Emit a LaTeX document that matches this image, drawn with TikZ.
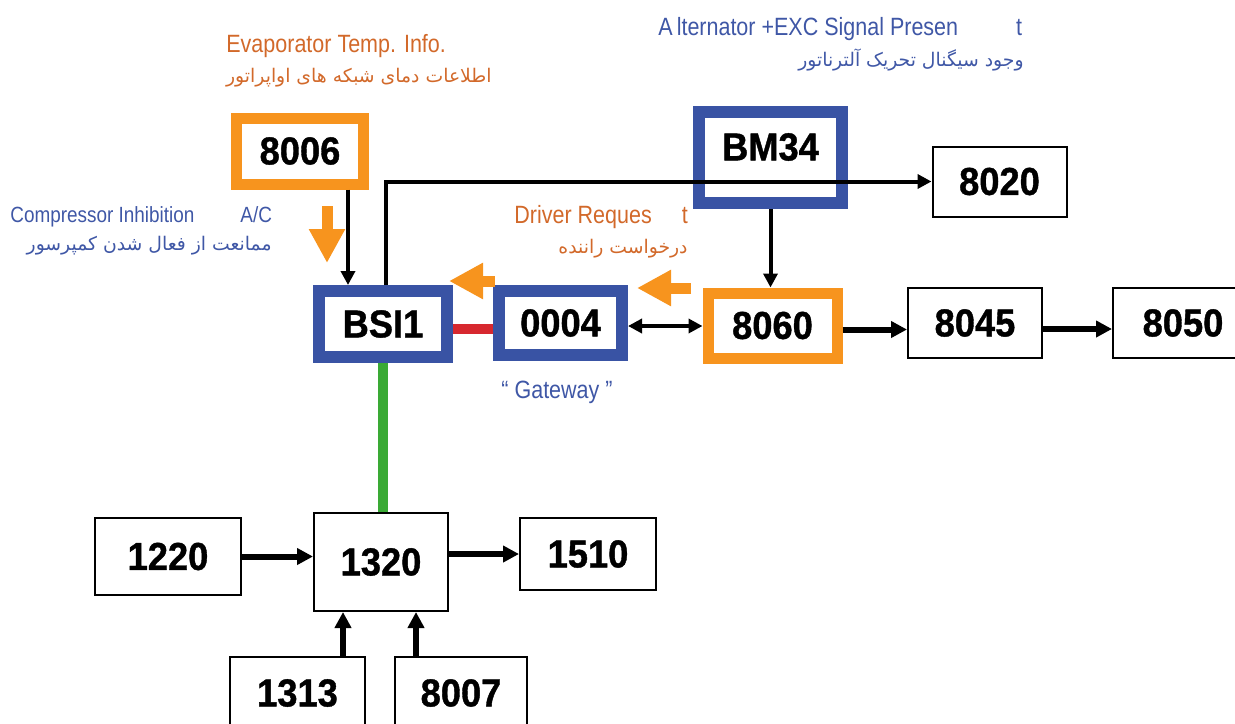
\documentclass[tikz,border=0pt]{standalone}
\usepackage{fontspec}
\setmainfont{Liberation Sans}
\newfontfamily\numfont[FakeStretch=0.93,FakeBold=1]{Liberation Sans}
\newfontfamily\lblfont[FakeStretch=0.86]{Liberation Sans}
\newfontfamily\fafont[Script=Arabic]{DejaVu Sans}
\TeXXeTstate=1
\usetikzlibrary{positioning, arrows.meta, calc}

\definecolor{frameblue}{HTML}{3953A4}
\definecolor{frameorange}{HTML}{F7941E}
\definecolor{textorange}{HTML}{D2692A}
\definecolor{textblue}{HTML}{3F57A6}
\definecolor{linkred}{HTML}{D7282F}
\definecolor{linkgreen}{HTML}{3AAA35}

\begin{document}
\begin{tikzpicture}[
    x=0.5pt, y=-0.5pt,
    box/.style={rectangle, draw, line width=1pt, inner sep=0pt, font=\numfont\bfseries\fontsize{19.5}{20}\selectfont},
    blueframe/.style={box, draw=frameblue, line width=6pt},
    orangeframe/.style={box, draw=frameorange, line width=5.5pt},
    arrow/.style={-{Triangle[length=7pt,width=7pt]}, line width=2pt},
    fatarrow/.style={-{Triangle[length=8pt,width=8pt]}, line width=3pt},
    hint/.style={-{Triangle[length=17pt,width=17pt]}, line width=5.5pt, frameorange},
    entext/.style={font=\lblfont\fontsize{12.5}{14}\selectfont, inner sep=0pt},
    fatext/.style={font=\fafont\fontsize{9.4}{11}\selectfont, inner sep=0pt},
]
\useasboundingbox (0,0) rectangle (1235,723);
\clip (0,0) rectangle (1235,723);

% ECU boxes
\node[orangeframe, minimum width=63.5pt, minimum height=33pt] (ecu8006) at (300,151) {8006};
\node[blueframe, minimum width=64pt, minimum height=33pt] (bsi) at (383,324) {BSI1};
\node[blueframe, minimum width=61.5pt, minimum height=32pt] (gw) at (560.5,323) {0004};
\node[blueframe, minimum width=71.5pt, minimum height=45.5pt] (bm34) at (770.5,157.5) {};
\node[box, draw=none] (bm34txt) at (770.5,147) {BM34};
\node[orangeframe, minimum width=64.5pt, minimum height=32.5pt] (ecu8060) at (772.5,325.5) {8060};
\node[box, minimum width=67pt, minimum height=35pt] (ecu8020) at (999.5,181.5) {8020};
\node[box, minimum width=67pt, minimum height=35pt] (ecu8045) at (975,323) {8045};
\node[box, minimum width=70pt, minimum height=35pt] (ecu8050) at (1183,323) {8050};
\node[box, minimum width=73pt, minimum height=38.5pt] (ecu1220) at (168,556.5) {1220};
\node[box, minimum width=67pt, minimum height=49pt] (ecu1320) at (381,562) {1320};
\node[box, minimum width=68pt, minimum height=36pt] (ecu1510) at (588,554) {1510};
\node[box, minimum width=67.5pt, minimum height=36pt] (ecu1313) at (297.5,693) {1313};
\node[box, minimum width=66pt, minimum height=36pt] (ecu8007) at (461,693) {8007};

% network links
\draw[line width=5pt, linkred] ([yshift=-2.5pt]bsi.east) -- ([yshift=-2.5pt]bsi.east -| gw.west);
\draw[line width=5pt, linkgreen] (bsi.south) -- (bsi.south |- ecu1320.north);

% signal arrows
\draw[arrow] ([xshift=24pt]ecu8006.south) -- ([xshift=24pt]ecu8006.south |- bsi.north);
\draw[arrow] ([xshift=1.5pt]bsi.north) |- (ecu8020.west);
\draw[arrow] (bm34.south) -- (bm34.south |- ecu8060.north);
\draw[arrow, {Triangle[length=7pt,width=7pt]}-{Triangle[length=7pt,width=7pt]}] ([yshift=-1.5pt]gw.east) -- ([yshift=-1.5pt]gw.east -| ecu8060.west);
\draw[fatarrow] ([yshift=-2pt]ecu8060.east) -- ([yshift=-2pt]ecu8060.east -| ecu8045.west);
\draw[fatarrow] ([yshift=-3pt]ecu8045.east) -- ([yshift=-3pt]ecu8050.west);
\draw[fatarrow] (ecu1220.east) -- (ecu1220.east -| ecu1320.west);
\draw[fatarrow] (ecu1320.east |- ecu1510.west) -- (ecu1510.west);
\draw[fatarrow] ([xshift=22.75pt]ecu1313.north) -- ([xshift=22.75pt]ecu1313.north |- ecu1320.south);
\draw[fatarrow] ([xshift=-22.5pt]ecu8007.north) -- ([xshift=-22.5pt]ecu8007.north |- ecu1320.south);

% orange hints
\coordinate (acTail) at (327,206);
\coordinate (acTip) at (327,263);
\coordinate (drvTail) at (691,288);
\coordinate (drvTip) at (637,288);
\coordinate (gwTail) at (495,281);
\coordinate (gwTip) at (449,281);
\draw[hint] (acTail) -- (acTip);
\draw[hint] (drvTail) -- (drvTip);
\draw[hint] (gwTail) -- (gwTip);

% labels
\node[entext, text=textorange, anchor=west] (evapEn) at (226,46) {Evaporator Temp. Info.};
\node[fatext, text=textorange, anchor=east] (evapFa) at (492,78) {\beginR اطلاعات دمای شبکه های اواپراتور\endR};
\node[entext, text=textblue, anchor=west] (altEn) at (658,29) {A\hspace{2pt}lternator +EXC Signal Presen\hspace{29pt}t};
\node[fatext, text=textblue, anchor=east] (altFa) at (1024,60) {\beginR وجود سیگنال تحریک آلترناتور\endR};
\node[entext, font=\lblfont\fontsize{11}{12}\selectfont, text=textblue, anchor=west] (compEn) at (10,217) {Compressor Inhibition\hspace{23pt}A/C};
\node[fatext, text=textblue, anchor=east] (compFa) at (272,246) {\beginR ممانعت از فعال شدن کمپرسور\endR};
\node[entext, text=textorange, anchor=west] (drvEn) at (514,217) {Driver Reques\hspace{15pt}t};
\node[fatext, text=textorange, anchor=east] (drvFa) at (688,249) {\beginR درخواست راننده\endR};
\node[entext, text=textblue] (gwLbl) at (557,392) {“ Gateway ”};

\end{tikzpicture}
\end{document}
